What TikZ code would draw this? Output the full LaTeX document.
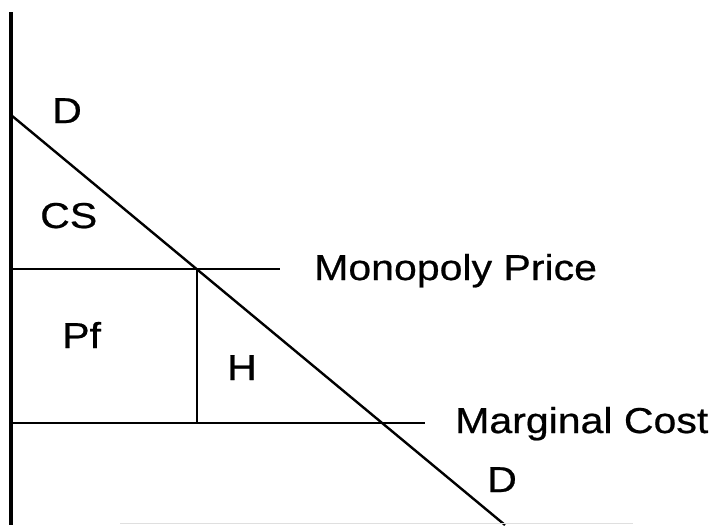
\documentclass[tikz,border=0pt]{standalone}
\usepackage{fontspec}
\setmainfont{Liberation Sans}[FakeStretch=1.14, FakeBold=0.6]
\usetikzlibrary{calc}

\begin{document}
\begin{tikzpicture}[x=1pt, y=-1pt,
      lab/.style={anchor=base west, inner sep=0pt, font=\fontsize{36}{40}\selectfont},
      level/.style={line width=1.5pt},
      demand/.style={line width=2.4pt}]
  \useasboundingbox (0,0) rectangle (717,525);
  % axis and demand curve
  \coordinate (ytop) at (11,12);
  \coordinate (ybot) at (11,525);
  \coordinate (dtop) at (11,115);
  \coordinate (dbot) at (505,525);
  \draw[line width=3.5pt] (ytop) -- (ybot);
  \draw[demand] (dtop) -- (dbot);
  % price levels
  \coordinate (mpl) at (11,269);
  \coordinate (mpr) at (280,269);
  \coordinate (mcl) at (11,423);
  \coordinate (mcr) at (425,423);
  \coordinate (mpq) at (197,269);
  \coordinate (mcq) at (197,423);
  \draw[level] (mpl) -- (mpr);
  \draw[level] (mcl) -- (mcr);
  \draw[level] (mpq) -- (mcq);
  \coordinate (xl) at (120,523.5);
  \coordinate (xr) at (633,523.5);
  \draw[line width=1pt, gray!25] (xl) -- (xr);
  % labels
  \node[lab] (dlabtop) at (52,123) {D};
  \node[lab] (cs) at (40,228) {CS};
  \node[lab] (pf) at (62,348) {Pf};
  \node[lab] (h) at (227,380) {H};
  \node[lab] (dlabbot) at (487,492) {D};
  \node[lab] (mp) at (314,280) {Monopoly Price};
  \node[lab] (mc) at (455,433) {Marginal Cost};
\end{tikzpicture}
\end{document}
